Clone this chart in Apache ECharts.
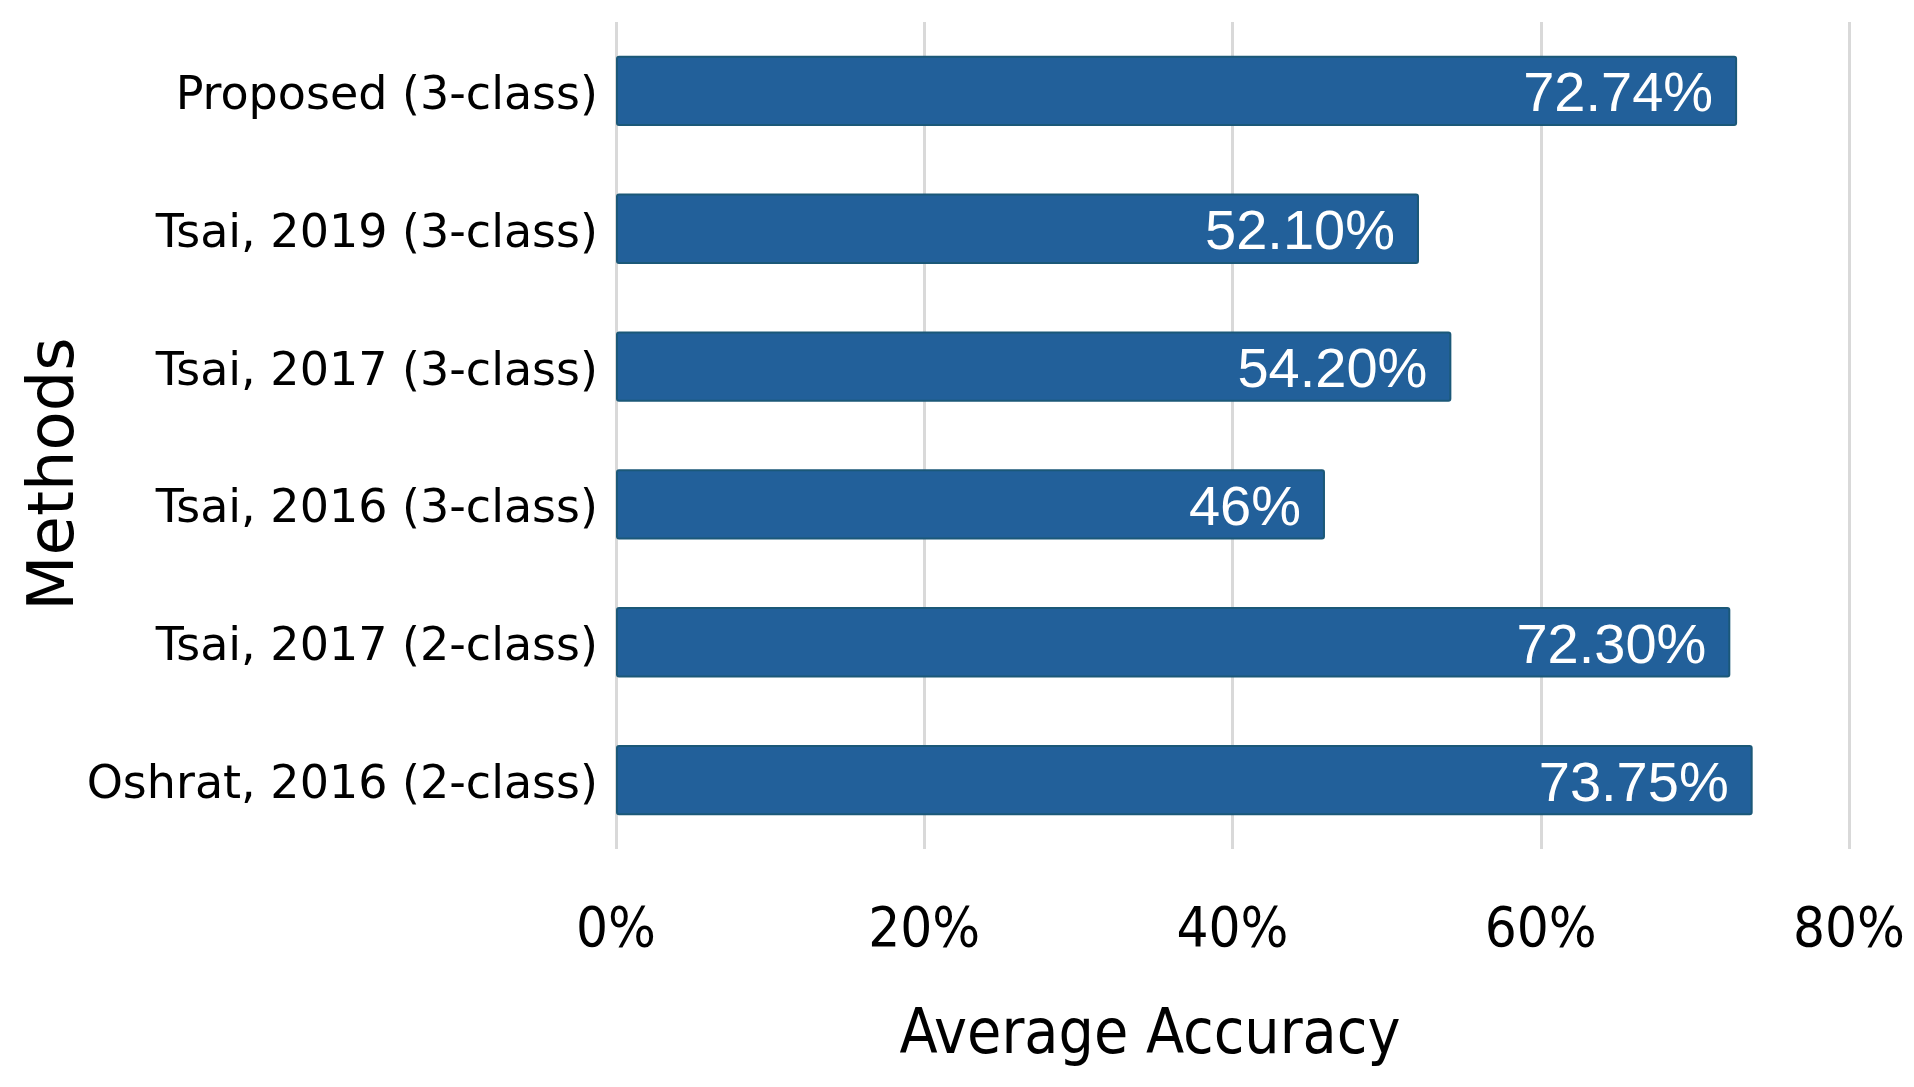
<!DOCTYPE html>
<html>
<head>
<meta charset="utf-8">
<style>html,body{margin:0;padding:0;background:#fff}#c{width:1914px;height:1087px}</style>
<script src="https://cdn.jsdelivr.net/npm/echarts@6/dist/echarts.min.js"></script>
</head>
<body>
<div id="c"></div>
<script>
const categories = ['Proposed (3-class)', 'Tsai, 2019 (3-class)', 'Tsai, 2017 (3-class)', 'Tsai, 2016 (3-class)', 'Tsai, 2017 (2-class)', 'Oshrat, 2016 (2-class)'];
const values = [72.74, 52.10, 54.20, 46, 72.30, 73.75];
const valueLabels = ['72.74%', '52.10%', '54.20%', '46%', '72.30%', '73.75%'];
const xTicks = [0, 20, 40, 60, 80];
const xTitle = 'Average Accuracy';
const yTitle = 'Methods';

const condensed = '"Liberation Sans Narrow", "DejaVu Sans Condensed", sans-serif';
const chart = echarts.init(document.getElementById('c'), null, {renderer: 'canvas'});
chart.setOption({
  animation: false,
  backgroundColor: '#ffffff',
  grid: {left: 616, right: 65, top: 22, bottom: 238, containLabel: false},
  xAxis: {
    type: 'value', min: xTicks[0], max: xTicks[xTicks.length - 1], interval: 20,
    axisLine: {show: false}, axisTick: {show: false},
    splitLine: {show: true, lineStyle: {color: '#d9d9d9', width: 3}},
    axisLabel: {
      margin: 54, color: '#000', fontFamily: condensed, fontSize: 56,
      formatter: v => v + '%'
    }
  },
  yAxis: {
    type: 'category', data: categories, inverse: true,
    axisLine: {show: false}, axisTick: {show: false},
    axisLabel: {
      margin: 18, color: '#000', fontFamily: '"DejaVu Sans", sans-serif', fontSize: 46,
      formatter: v => '{a|' + v + '}',
      rich: {a: {fontFamily: '"DejaVu Sans", sans-serif', fontSize: 46, color: '#000', padding: [12, 0, 0, 0]}}
    }
  },
  graphic: [
    {type: 'text', x: 1150, y: 1037, style: {text: xTitle, fill: '#000', fontFamily: condensed, fontSize: 62, align: 'center', verticalAlign: 'middle'}, z: 10},
    {type: 'text', x: 56, y: 474, rotation: Math.PI / 2, style: {text: yTitle, fill: '#000', fontFamily: '"DejaVu Sans", sans-serif', fontSize: 64, align: 'center', verticalAlign: 'middle'}, z: 10}
  ],
  series: [{
    type: 'bar', data: values, barCategoryGap: '49%',
    itemStyle: {color: '#22609a', borderColor: '#1b5878', borderWidth: 2, borderRadius: 2},
    label: {
      show: true, position: 'insideRight', distance: 24, color: '#fff', offset: [0, 5],
      fontFamily: '"Liberation Sans", Arial, sans-serif', fontSize: 56,
      formatter: p => valueLabels[p.dataIndex]
    }
  }]
});
</script>
</body>
</html>
